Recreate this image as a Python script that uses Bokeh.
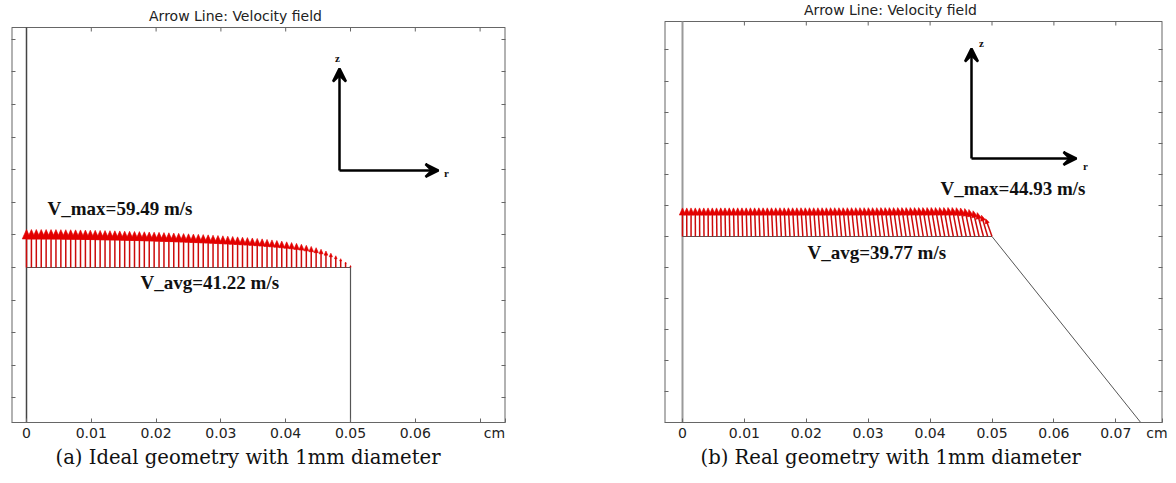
import numpy as np
from bokeh.plotting import figure
from bokeh.layouts import row
from bokeh.models import Label, Arrow, VeeHead, LinearAxis, FixedTicker, Range1d, Title
from bokeh.embed import file_html
from bokeh.resources import INLINE

# ---------------- data ----------------
TITLE = "Arrow Line: Velocity field"
CAPTION_A = "(a) Ideal geometry with 1mm diameter"
CAPTION_B = "(b) Real geometry with 1mm diameter"
UNIT = "cm"

x_ticks = [0.0, 0.01, 0.02, 0.03, 0.04, 0.05, 0.06, 0.07]
x_labels_a = ["0", "0.01", "0.02", "0.03", "0.04", "0.05", "0.06", ""]
x_labels_b = ["0", "0.01", "0.02", "0.03", "0.04", "0.05", "0.06", "0.07"]
z_ticks_a = [-0.02, -0.015, -0.01, -0.005, 0.0, 0.005, 0.01, 0.015, 0.02, 0.025, 0.03, 0.035]
z_ticks_b = [-0.025, -0.02, -0.015, -0.01, -0.005, 0.0, 0.005, 0.01, 0.015, 0.02, 0.025, 0.03]

# nozzle outlines (r, z in cm)
wall_r_a = [0.0, 0.05, 0.05]
wall_z_a = [0.0, 0.0, -0.05]
wall_r_b = [0.0, 0.05, 0.09]
wall_z_b = [0.0, 0.0, -0.0498]

# (a) ideal geometry: axial velocity at the outlet (m/s), 67 arrows from r=0 to r=0.05 cm
vz_a = [59.49, 59.48, 59.47, 59.45, 59.42, 59.38, 59.33, 59.27, 59.20, 59.10,
        58.95, 58.80, 58.60, 58.40, 58.20, 58.00, 57.80, 57.60, 57.40, 57.20,
        56.90, 56.70, 56.40, 56.20, 55.90, 55.60, 55.30, 55.00, 54.60, 54.30,
        53.90, 53.50, 53.10, 52.70, 52.30, 51.90, 51.50, 51.10, 50.60, 50.10,
        49.60, 49.10, 48.60, 48.00, 47.40, 46.80, 46.20, 45.50, 44.80, 44.00,
        43.20, 42.30, 41.30, 40.20, 39.10, 37.80, 36.40, 34.80, 33.00, 31.00,
        28.60, 25.80, 22.40, 18.40, 13.80, 8.60, 3.00]
vr_a = [0.0] * len(vz_a)

# (b) real geometry: axial and radial velocity (m/s), 73 arrows from r=0 to r=0.05 cm
vz_b = [44.30, 44.30, 44.31, 44.31, 44.32, 44.32, 44.33, 44.34, 44.35, 44.36,
        44.37, 44.38, 44.39, 44.40, 44.41, 44.42, 44.43, 44.44, 44.45, 44.46,
        44.47, 44.48, 44.49, 44.50, 44.51, 44.52, 44.53, 44.54, 44.55, 44.56,
        44.57, 44.58, 44.59, 44.60, 44.61, 44.62, 44.63, 44.64, 44.65, 44.66,
        44.67, 44.68, 44.69, 44.70, 44.71, 44.72, 44.73, 44.74, 44.75, 44.76,
        44.77, 44.78, 44.79, 44.80, 44.81, 44.82, 44.83, 44.85, 44.87, 44.89,
        44.90, 44.91, 44.92, 44.93, 44.93, 44.70, 44.20, 43.30, 41.90, 39.90,
        37.00, 33.00, 27.50]
vr_b = [0.00, -0.05, -0.11, -0.18, -0.25, -0.32,
        -0.39, -0.48, -0.57, -0.67, -0.76, -0.86,
        -0.96, -1.07, -1.18, -1.30, -1.41, -1.53,
        -1.64, -1.76, -1.88, -2.01, -2.13, -2.26,
        -2.38, -2.51, -2.64, -2.78, -2.91, -3.05,
        -3.18, -3.32, -3.46, -3.60, -3.74, -3.88,
        -4.02, -4.17, -4.32, -4.46, -4.61, -4.76,
        -4.91, -5.07, -5.22, -5.38, -5.53, -5.69,
        -5.84, -6.00, -6.16, -6.32, -6.49, -6.65,
        -6.81, -6.98, -7.14, -7.31, -7.47, -7.64,
        -7.81, -7.98, -8.15, -8.32, -8.50, -8.67,
        -8.85, -9.02, -9.20, -9.37, -9.55, -9.72,
        -9.90]

ann_a = ["V_max=59.49 m/s", "V_avg=41.22 m/s"]
ann_b = ["V_max=44.93 m/s", "V_avg=39.77 m/s"]

R_OUTLET = 0.05

# ---------------- styling / layout helpers ----------------
AX_COLOR = "#666666"
SHAFT = "#cc0a0a"
HEAD = "#e30000"
NB = "\u00a0"
FRAME_BOTTOM_PX = 422
FIG_H = 483


def style_axis(ax, ticks, labels=None):
    ax.major_tick_line_color = AX_COLOR
    ax.major_tick_in = 4
    ax.major_tick_out = 0
    ax.minor_tick_in = 0
    ax.minor_tick_out = 0
    ax.minor_tick_line_color = None
    if labels is not None:
        ax.axis_line_color = AX_COLOR
        ax.major_label_text_font = "DejaVu Sans"
        ax.major_label_text_font_size = "14px"
        ax.major_label_text_color = "#222222"
        ax.major_label_standoff = 2
        ax.major_label_overrides = {t: l for t, l in zip(ticks, labels)}
    else:
        ax.axis_line_color = None
        ax.major_label_overrides = {t: "" for t in ticks}
        ax.major_label_text_color = None
        ax.major_label_text_font_size = "1px"
        ax.major_label_standoff = 0


class Panel:
    """Pixel geometry of one panel (relative to its own figure)."""

    def __init__(self, width, fl, fr, r0_px, xpu, z0_px, ypu, box_top_px):
        self.width, self.fl, self.fr = width, fl, fr
        self.r0_px, self.xpu, self.z0_px, self.ypu = r0_px, xpu, z0_px, ypu
        self.box_top_px = box_top_px

    def r(self, px):
        return (px - self.r0_px) / self.xpu

    def z(self, py):
        return (self.z0_px - py) / self.ypu


def make_fig(g, xlabels, zticks, unit_pad):
    xr = (g.r(g.fl), g.r(g.fr))
    yr = (g.z(FRAME_BOTTOM_PX), g.z(0))
    p = figure(width=g.width, height=FIG_H, x_range=Range1d(*xr), y_range=Range1d(*yr),
               output_backend="svg", toolbar_location=None, title=None,
               x_axis_location=None, y_axis_location=None,
               min_border_left=g.fl, min_border_right=g.width - g.fr,
               min_border_top=0, min_border_bottom=FIG_H - FRAME_BOTTOM_PX)
    p.xgrid.visible = False
    p.ygrid.visible = False
    p.outline_line_color = None
    p.background_fill_color = "white"
    p.border_fill_color = "white"
    # bottom axis: numeric ticks plus the unit written at the right end of the frame
    bt = x_ticks + [xr[1] - 1e-9]
    bl = xlabels + [UNIT + NB * unit_pad]
    ax = LinearAxis(ticker=FixedTicker(ticks=bt))
    style_axis(ax, bt, bl)
    p.add_layout(ax, "below")
    for loc in ("left", "right"):
        ax = LinearAxis(ticker=FixedTicker(ticks=zticks))
        style_axis(ax, zticks)
        p.add_layout(ax, loc)
    # plot box: top edge (with inward ticks) and the two side edges
    zt = g.z(g.box_top_px)
    p.segment(x0=[xr[0], xr[0], xr[1]], y0=[zt, yr[0], yr[0]],
              x1=[xr[1], xr[0], xr[1]], y1=[zt, zt, zt],
              line_color=AX_COLOR, line_width=[1, 2, 2])
    tick_len = 4 / g.ypu
    p.segment(x0=x_ticks, y0=[zt] * len(x_ticks), x1=x_ticks,
              y1=[zt - tick_len] * len(x_ticks), line_color=AX_COLOR, line_width=1)
    return p, xr, yr, zt


def draw_arrows(p, vr, vz, scale):
    n = len(vz)
    r = np.linspace(0.0, R_OUTLET, n)
    dx = np.asarray(vr) * scale
    dy = np.asarray(vz) * scale
    L = np.hypot(dx, dy)
    ux, uy = dx / L, dy / L
    tx, ty = r + dx, dy
    hl = 0.25 * L
    bx, by = tx - ux * hl, ty - uy * hl
    hw = 0.45 * hl
    p.segment(x0=r, y0=np.zeros(n), x1=bx + ux * hl * 0.3, y1=by + uy * hl * 0.3,
              line_color=SHAFT, line_width=1.5)
    xs = [[bx[i] - uy[i] * hw[i], tx[i], bx[i] + uy[i] * hw[i]] for i in range(n)]
    ys = [[by[i] + ux[i] * hw[i], ty[i], by[i] - ux[i] * hw[i]] for i in range(n)]
    p.patches(xs=xs, ys=ys, fill_color=HEAD, line_color=HEAD, line_width=0.6)


def add_text(p, x, y, text, font, size, style="normal", align="center", color="#111111"):
    p.add_layout(Label(x=x, y=y, text=text, text_font=font, text_font_size=size,
                       text_font_style=style, text_align=align, text_baseline="middle",
                       text_color=color))


def coord_glyph(p, g, origin_px, z_tip_py, r_tip_px, zlab_px, rlab_px):
    ox, oy = g.r(origin_px[0]), g.z(origin_px[1])
    for (x1, y1) in ((ox, g.z(z_tip_py)), (g.r(r_tip_px), oy)):
        p.add_layout(Arrow(x_start=ox, y_start=oy, x_end=x1, y_end=y1,
                           line_color="black", line_width=2.5,
                           end=VeeHead(size=13, line_color="black", line_width=2.5)))
    add_text(p, g.r(zlab_px[0]), g.z(zlab_px[1]), "z", "Liberation Serif", "11px", "bold")
    add_text(p, g.r(rlab_px[0]), g.z(rlab_px[1]), "r", "Liberation Serif", "11px", "bold")


def decorate(p, g, title_px, caption, caption_offset):
    add_text(p, g.r(title_px[0]), g.z(title_px[1]), TITLE, "DejaVu Sans", "14px",
             color="#222222")
    p.add_layout(Title(text=caption, align="left", offset=caption_offset, standoff=0,
                       text_font="DejaVu Serif", text_font_size="19.6px",
                       text_font_style="normal", text_color="#111111"), "below")


# ---------------- panel (a) ----------------
ga = Panel(640, 11, 505, 26, 6480, 267, 6520, 27)
pa, xra, yra, zta = make_fig(ga, x_labels_a, z_ticks_a, 5)
pa.line([0, 0], [yra[0], zta], line_color="#444444", line_width=1.5)
pa.line(wall_r_a, wall_z_a, line_color="#555555", line_width=1.2)
draw_arrows(pa, vr_a, vz_a, 9.8e-5)
add_text(pa, ga.r(47), ga.z(208), ann_a[0], "Liberation Serif", "19px", "bold", "left")
add_text(pa, ga.r(140), ga.z(282), ann_a[1], "Liberation Serif", "19px", "bold", "left")
coord_glyph(pa, ga, (339, 170), 68, 438, (337, 57), (446, 172))
decorate(pa, ga, (235, 15), CAPTION_A, 44)

# ---------------- panel (b) ----------------
gb = Panel(536, 24, 522, 42, 6190, 236, 6218, 21)
pb, xrb, yrb, ztb = make_fig(gb, x_labels_b, z_ticks_b, 2)
pb.line([0, 0], [yrb[0], ztb], line_color="#9a9a9a", line_width=2)
pb.line(wall_r_b, wall_z_b, line_color="#555555", line_width=1)
draw_arrows(pb, vr_b, vz_b, 1.038e-4)
add_text(pb, gb.r(300), gb.z(188), ann_b[0], "Liberation Serif", "19px", "bold", "left")
add_text(pb, gb.r(167), gb.z(252), ann_b[1], "Liberation Serif", "19px", "bold", "left")
coord_glyph(pb, gb, (331, 158), 48, 436, (341, 42), (445, 165))
decorate(pb, gb, (250, 9), CAPTION_B, 36)

layout = row(pa, pb, spacing=0)
open("out.html", "w").write(file_html(layout, INLINE))
